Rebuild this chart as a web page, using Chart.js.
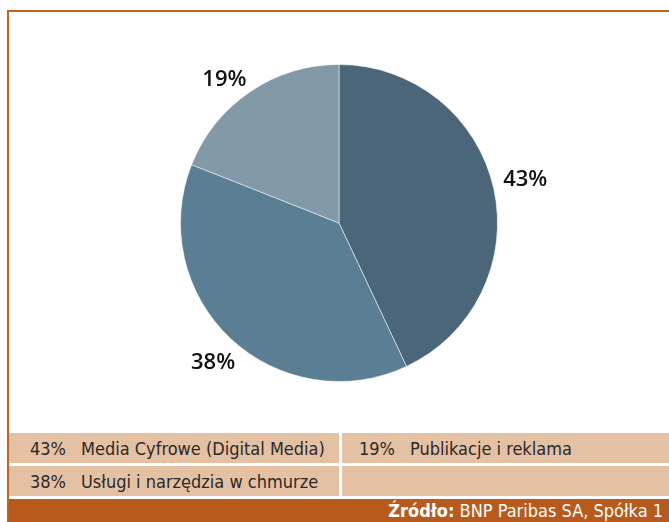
<!DOCTYPE html>
<html><head><meta charset="utf-8">
<script src="https://cdn.jsdelivr.net/npm/chart.js@4"></script>
<style>
html,body{margin:0;padding:0;background:#fff;width:669px;height:522px;overflow:hidden;}
#frame{position:absolute;left:7px;top:10px;width:700px;height:600px;border-left:2px solid #c8611d;border-top:2px solid #c8611d;box-sizing:border-box;}
#wrap{position:absolute;left:0;top:0;width:669px;height:430px;}
.leg{position:absolute;left:9px;width:660px;background:#e5c1a3;font-family:"Liberation Sans Narrow","DejaVu Sans Condensed","DejaVu Sans",sans-serif;font-stretch:condensed;font-size:18px;color:#2a2a2a;}
.cell{position:absolute;top:0;height:100%;display:flex;align-items:center;}
.pct{display:inline-block;width:51px;}
#src{position:absolute;left:9px;top:499px;width:660px;height:23px;background:#b85a1b;color:#fff;font-family:"Liberation Sans Narrow","DejaVu Sans Condensed",sans-serif;font-stretch:condensed;font-size:18px;text-align:right;line-height:24px;}
</style></head>
<body>
<div id="frame"></div>
<div id="wrap"><canvas id="c"></canvas></div>
<div class="leg" id="row1" style="top:433px;height:30px;"></div>
<div class="leg" id="row2" style="top:466px;height:30px;"></div>
<div id="src"><span style="padding-right:6px"><b>Źródło:</b> BNP Paribas SA, Spółka 1</span></div>
<script>
const categories = ["Media Cyfrowe (Digital Media)", "Usługi i narzędzia w chmurze", "Publikacje i reklama"];
const values = [43, 38, 19];
const colors = ["#4b6679", "#5a7f95", "#8299a8"];

// legend table
function cellHTML(i){return '<span class="pct">'+values[i]+'%</span>'+categories[i];}
const r1=document.getElementById('row1'), r2=document.getElementById('row2');
r1.innerHTML='<div class="cell" style="left:21px">'+cellHTML(0)+'</div><div style="position:absolute;left:330px;top:0;width:3px;height:100%;background:#fff"></div><div class="cell" style="left:350px">'+cellHTML(2)+'</div>';
r2.innerHTML='<div class="cell" style="left:21px">'+cellHTML(1)+'</div><div style="position:absolute;left:330px;top:0;width:3px;height:100%;background:#fff"></div>';

const labelPlugin={id:'outLabels',afterDatasetsDraw(chart){
  const ctx=chart.ctx;const meta=chart.getDatasetMeta(0);
  ctx.save();ctx.font='600 22px "Open Sans", sans-serif';ctx.fillStyle='#111';ctx.textAlign='center';ctx.textBaseline='middle';
  const offs=[33,29,26];
  const shifts=[-0.9,-1,-4.2];
  meta.data.forEach((arc,i)=>{
    const a=(arc.startAngle+arc.endAngle)/2+shifts[i]*Math.PI/180;const r=arc.outerRadius+offs[i];
    ctx.fillText(values[i]+'%',arc.x+Math.cos(a)*r,arc.y+Math.sin(a)*r+1);
  });
  ctx.restore();
}};

new Chart(document.getElementById('c'),{
  type:'pie',
  data:{labels:categories,datasets:[{data:values,backgroundColor:colors,borderColor:'rgba(255,255,255,0.5)',borderWidth:1}]},
  options:{responsive:true,maintainAspectRatio:false,animation:false,
    layout:{padding:{left:180,right:171,top:64,bottom:48}},
    plugins:{legend:{display:false},tooltip:{enabled:false}}},
  plugins:[labelPlugin]
});
</script>
</body></html>
